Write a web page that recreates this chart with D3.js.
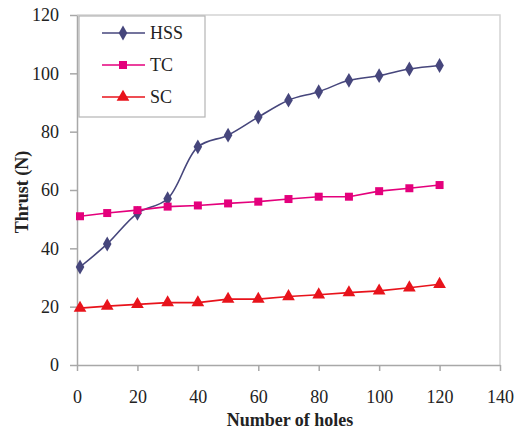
<!DOCTYPE html>
<html>
<head>
<meta charset="utf-8">
<script src="https://cdn.jsdelivr.net/npm/d3@7"></script>
<style>
  body { margin: 0; background: #fff; }
  svg, svg text { font-family: 'Times New Roman', 'Liberation Serif', Times, serif !important; }
</style>
</head>
<body>
<div id="wrapper"></div>
<script>
// 1. Data
const holes = [1, 10, 20, 30, 40, 50, 60, 70, 80, 90, 100, 110, 120]
const hss = [33.6, 41.5, 52, 57, 74.8, 78.8, 85, 90.8, 93.7, 97.6, 99.2, 101.5, 102.7]
const tc = [51, 52.1, 53.1, 54.3, 54.7, 55.4, 56, 56.9, 57.7, 57.7, 59.6, 60.6, 61.7]
const sc = [19.5, 20.2, 20.8, 21.4, 21.4, 22.6, 22.6, 23.5, 24.1, 24.8, 25.4, 26.5, 27.7]
const xTicks = [0, 20, 40, 60, 80, 100, 120, 140]
const yTicks = [0, 20, 40, 60, 80, 100, 120]

const seriesList = [
    { name: "HSS", values: hss, color: "#46467c", symbol: d3.symbolDiamond, smooth: true },
    { name: "TC", values: tc, color: "#e4007c", symbol: d3.symbolSquare, smooth: false },
    { name: "SC", values: sc, color: "#e8131b", symbol: d3.symbolTriangle, smooth: false },
]

// 2. Dimensions
let dimensions = {
    width: 521,
    height: 432,
    margin: { top: 15, right: 21, bottom: 67, left: 77 },
}
dimensions.boundedWidth = dimensions.width - dimensions.margin.left - dimensions.margin.right
dimensions.boundedHeight = dimensions.height - dimensions.margin.top - dimensions.margin.bottom

// 3. Canvas
const wrapper = d3.select("#wrapper").append("svg")
    .attr("width", dimensions.width)
    .attr("height", dimensions.height)

const bounds = wrapper.append("g")
    .attr("transform", `translate(${dimensions.margin.left},${dimensions.margin.top})`)

// 4. Scales
const xScale = d3.scaleLinear().domain([0, 140]).range([0, dimensions.boundedWidth])
const yScale = d3.scaleLinear().domain([0, 120]).range([dimensions.boundedHeight, 0])

// plot frame (top + right light)
bounds.append("path")
    .attr("d", `M0,0H${dimensions.boundedWidth}V${dimensions.boundedHeight}`)
    .attr("fill", "none")
    .attr("stroke", "#d4d4d4")
    .attr("stroke-width", 1.5)

// 5. Axes
const xAxis = bounds.append("g")
    .attr("transform", `translate(0,${dimensions.boundedHeight})`)
    .call(d3.axisBottom(xScale).tickValues(xTicks).tickSize(6).tickSizeOuter(0).tickPadding(19))
const yAxis = bounds.append("g")
    .call(d3.axisLeft(yScale).tickValues(yTicks).tickSize(7).tickSizeOuter(0).tickPadding(11))

bounds.selectAll("g").attr("font-family", null).attr("font-size", 18)
bounds.selectAll(".domain, .tick line")
    .attr("stroke", "#a8a8a8")
    .attr("stroke-width", 1.5)
bounds.selectAll(".tick text")
    .attr("fill", "#222")
    .style("font-size", "18px")

wrapper.append("text")
    .attr("x", 290)
    .attr("y", 426)
    .attr("text-anchor", "middle")
    .style("font-size", "18px")
    .style("font-weight", "bold")
    .attr("fill", "#222")
    .text("Number of holes")

wrapper.append("text")
    .attr("transform", `translate(28,192) rotate(-90)`)
    .attr("text-anchor", "middle")
    .style("font-size", "18px")
    .style("font-weight", "bold")
    .attr("fill", "#222")
    .text("Thrust (N)")

// 6. Series
seriesList.forEach(s => {
    const line = d3.line()
        .x((d, i) => xScale(holes[i]))
        .y(d => yScale(d))
        .curve(s.smooth ? d3.curveCatmullRom.alpha(0.5) : d3.curveLinear)

    bounds.append("path")
        .attr("d", line(s.values))
        .attr("fill", "none")
        .attr("stroke", s.color)
        .attr("stroke-width", 1.6)

    bounds.selectAll(null)
        .data(s.values)
        .enter().append("path")
        .attr("transform", (d, i) => `translate(${xScale(holes[i])},${yScale(d)})`)
        .attr("d", d3.symbol().type(s.symbol).size(s.symbol === d3.symbolTriangle ? 70 : 64))
        .attr("fill", s.color)
})

// 7. Legend
const legend = wrapper.append("g").attr("transform", "translate(79,16)")
legend.append("rect")
    .attr("width", 126)
    .attr("height", 101)
    .attr("fill", "#fff")
    .attr("stroke", "#b4b4b4")
    .attr("stroke-width", 1.2)

seriesList.forEach((s, i) => {
    const y = 17 + i * 32
    legend.append("line")
        .attr("x1", 23).attr("x2", 66)
        .attr("y1", y).attr("y2", y)
        .attr("stroke", s.color)
        .attr("stroke-width", 1.6)
    legend.append("path")
        .attr("transform", `translate(44,${y})`)
        .attr("d", d3.symbol().type(s.symbol).size(s.symbol === d3.symbolTriangle ? 70 : 64))
        .attr("fill", s.color)
    legend.append("text")
        .attr("x", 71)
        .attr("y", y + 6)
        .attr("fill", "#222")
        .style("font-size", "18px")
        .text(s.name)
})
</script>
</body>
</html>
